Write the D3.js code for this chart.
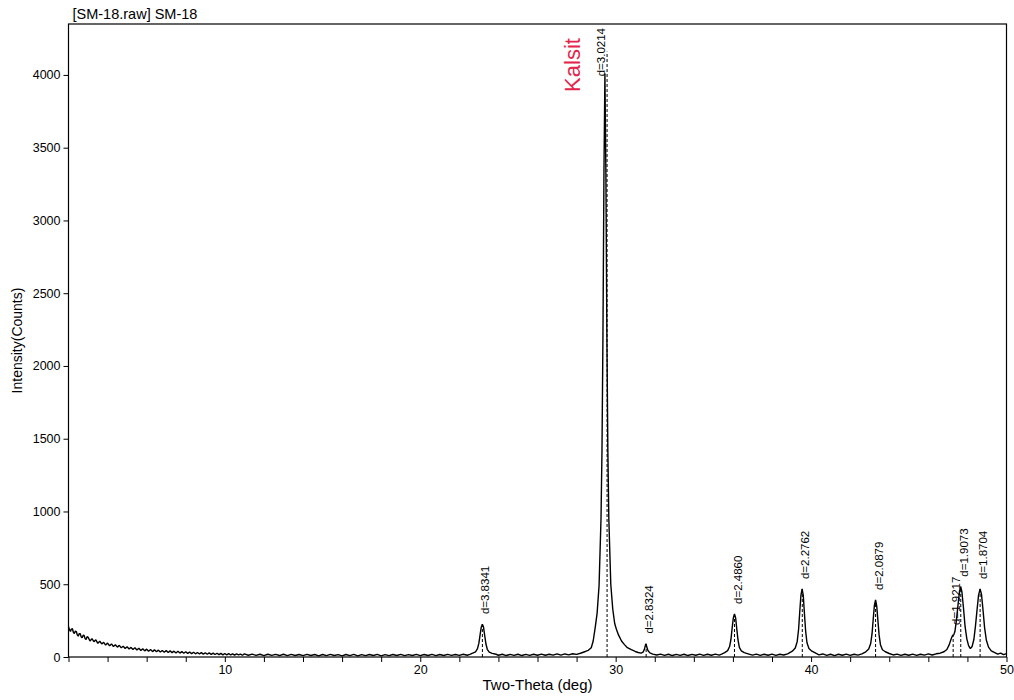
<!DOCTYPE html>
<html>
<head>
<meta charset="utf-8">
<script src="https://cdn.jsdelivr.net/npm/d3@7"></script>
<style>
  body { margin: 0; background: #fff; }
  text { font-family: "Liberation Sans", Arial, sans-serif; }
</style>
</head>
<body>
<script>
// raw scan, [2theta, counts]
const scanLow = [[2.0,208],[2.05,188],[2.1,176],[2.15,192],[2.2,194],[2.25,170],[2.3,161],[2.35,178],[2.4,175],[2.45,152],[2.5,143],[2.55,161],[2.6,160],[2.65,138],[2.7,132],[2.75,150],[2.8,148],[2.85,126],[2.9,121],[2.95,139],[3.0,137],[3.1,110],[3.2,126],[3.3,105],[3.4,118],[3.5,94],[3.6,108],[3.7,90],[3.8,101],[3.9,82],[4.0,96],[4.1,77],[4.2,90],[4.3,72],[4.4,84],[4.5,68],[4.6,80],[4.7,63],[4.8,74],[4.9,59],[5.0,70],[5.1,55],[5.2,66],[5.3,52],[5.4,63],[5.5,48],[5.6,60],[5.7,45],[5.8,56],[5.9,42],[6.0,54],[6.1,40],[6.2,51],[6.3,37],[6.4,49],[6.5,36],[6.6,47],[6.7,34],[6.8,45],[6.9,33],[7.0,44],[7.1,31],[7.2,42],[7.3,30],[7.4,40],[7.5,28],[7.6,39],[7.7,27],[7.8,37],[7.9,26],[8.0,36],[8.1,25],[8.2,34],[8.3,23],[8.4,33],[8.5,22],[8.6,31],[8.7,21],[8.8,30],[8.9,20],[9.0,29],[9.1,19],[9.2,28],[9.3,18],[9.4,27],[9.5,17],[9.6,26],[9.7,16],[9.8,25],[9.9,15],[10.0,24]];
const scanMid = [[10.1,15],[10.2,23],[10.3,14],[10.4,22],[10.5,13],[10.6,21],[10.7,14],[10.8,20],[10.9,12],[11.0,21],[11.2,12],[11.4,20],[11.6,11],[11.8,19],[12.0,10],[12.2,19],[12.4,11],[12.6,18],[12.8,10],[13.0,19],[13.2,9],[13.4,18],[13.6,10],[13.8,17],[14.0,9],[14.2,18],[14.4,10],[14.6,17],[14.8,8],[15.0,17],[15.2,9],[15.4,18],[15.6,10],[15.8,16],[16.0,8],[16.2,17],[16.4,9],[16.6,18],[16.8,8],[17.0,16],[17.2,9],[17.4,17],[17.6,10],[17.8,18],[18.0,8],[18.2,16],[18.4,9],[18.6,17],[18.8,10],[19.0,18],[19.2,9],[19.4,16],[19.6,10],[19.8,18],[20.0,9],[20.2,17],[20.4,10],[20.6,18],[20.8,9],[21.0,17],[21.2,10],[21.4,18],[21.6,11],[21.8,17],[22.0,11],[22.2,19],[22.4,12],[22.54,18],[22.68,26],[22.83,36],[22.93,57],[23.0,95],[23.06,151],[23.12,204],[23.18,225],[23.24,204],[23.30,145],[23.36,91],[23.43,53],[23.53,34],[23.68,25],[23.88,19],[24.0,12],[24.2,19],[24.4,10],[24.6,18],[24.8,11],[25.0,19],[25.2,10],[25.4,18],[25.6,11],[25.8,19],[26.0,12],[26.2,20],[26.4,12],[26.6,19],[26.8,13],[27.0,21],[27.2,13],[27.4,21],[27.6,15],[27.8,22],[28.0,18],[28.2,26],[28.45,38]];
const scanMain = [[28.6,46],[28.75,64],[28.85,110],[28.95,200],[29.05,300],[29.15,490],[29.25,950],[29.30,1420],[29.35,2220],[29.40,3320],[29.45,4010],[29.50,3320],[29.55,2220],[29.60,1420],[29.65,950],[29.75,500],[29.85,330],[29.95,230],[30.05,185],[30.15,150],[30.3,110],[30.45,85],[30.6,64],[30.8,50],[31.0,38],[31.15,31],[31.3,27],[31.4,33],[31.47,52],[31.52,80],[31.55,92],[31.59,70],[31.65,45],[31.75,28],[31.9,20],[32.1,14]];
const scanHigh = [[32.3,20],[32.5,11],[32.7,19],[32.9,10],[33.1,18],[33.3,11],[33.5,19],[33.7,10],[33.9,18],[34.1,12],[34.3,20],[34.5,11],[34.7,19],[34.9,12],[35.1,20],[35.3,13],[35.45,22],[35.58,30],[35.73,44],[35.83,72],[35.9,122],[35.96,198],[36.02,268],[36.08,296],[36.14,268],[36.2,190],[36.26,117],[36.33,66],[36.43,42],[36.58,30],[36.78,22],[37.0,13],[37.2,20],[37.4,11],[37.6,19],[37.8,12],[38.0,20],[38.2,11],[38.4,19],[38.6,14],[38.8,22],[39.04,40],[39.19,62],[39.29,107],[39.36,189],[39.42,311],[39.48,424],[39.54,469],[39.60,424],[39.66,297],[39.72,180],[39.79,98],[39.89,58],[40.04,40],[40.24,26],[40.4,15],[40.6,21],[40.8,11],[41.0,19],[41.2,10],[41.4,19],[41.6,12],[41.8,20],[42.0,11],[42.2,19],[42.4,13],[42.6,22],[42.8,36],[42.95,55],[43.05,92],[43.12,160],[43.18,261],[43.24,355],[43.30,392],[43.36,350],[43.42,250],[43.48,152],[43.55,85],[43.65,50],[43.8,36],[44.0,24],[44.2,14],[44.4,20],[44.6,11],[44.8,19],[45.0,12],[45.2,20],[45.4,11],[45.6,19],[45.8,13],[46.0,21],[46.2,14],[46.4,22],[46.6,26],[46.8,36],[46.95,52],[47.07,85],[47.17,125],[47.24,148],[47.30,152],[47.36,175],[47.44,255],[47.52,360],[47.60,455],[47.66,483],[47.72,445],[47.80,335],[47.88,210],[47.97,125],[48.06,78],[48.15,58],[48.24,72],[48.33,120],[48.41,210],[48.49,320],[48.57,425],[48.65,467],[48.72,430],[48.80,320],[48.88,200],[48.97,115],[49.08,68],[49.22,42],[49.4,30],[49.55,20],[49.7,27],[49.85,16],[50.0,23]];

// peak markers
const peakPos = [23.18, 29.56, 31.56, 36.08, 39.55, 43.30, 47.27, 47.66, 48.65];
const peakTop = [226, 4160, 92, 296, 467, 392, 152, 483, 467];
const peakLabel = ["d=3.8341", "d=3.0214", "d=2.8324", "d=2.4860", "d=2.2762", "d=2.0879", "d=1.9217", "d=1.9073", "d=1.8704"];
const phaseName = "Kalsit";

const xTicks = d3.range(2, 51, 2);
const yTicks = d3.range(0, 4001, 500);

const width = 1014, height = 700;
const margin = { top: 24, right: 7.5, bottom: 43, left: 68.5 };

let x = d3.scaleLinear().domain([2, 50]).range([margin.left, width - margin.right]);
let y = d3.scaleLinear().domain([0, 4350]).range([height - margin.bottom, margin.top]);

let svg = d3.select("body").append("svg")
  .attr("width", width)
  .attr("height", height);

svg.append("defs").append("clipPath").attr("id", "plot-clip")
  .append("rect")
  .attr("x", margin.left)
  .attr("y", margin.top)
  .attr("width", width - margin.left - margin.right)
  .attr("height", height - margin.top - margin.bottom);

svg.append("text")
  .attr("x", margin.left + 4)
  .attr("y", 19)
  .style("font-size", "14.5px")
  .text("[SM-18.raw] SM-18");

let xAxis = svg.append("g")
  .attr("transform", `translate(0,${height - margin.bottom})`)
  .call(d3.axisBottom(x).tickValues(xTicks).tickSize(5).tickSizeOuter(0)
    .tickFormat(d => d % 10 === 0 ? d : ""));
xAxis.select(".domain").remove();
xAxis.selectAll("text").style("font-size", "12.5px").style("font-family", "Liberation Sans, Arial");

let yAxis = svg.append("g")
  .attr("transform", `translate(${margin.left},0)`)
  .call(d3.axisLeft(y).tickValues(yTicks).tickSize(5).tickSizeOuter(0).tickFormat(d3.format("d")));
yAxis.select(".domain").remove();
yAxis.selectAll("text").style("font-size", "12.5px").style("font-family", "Liberation Sans, Arial");

svg.append("rect")
  .attr("x", margin.left)
  .attr("y", margin.top)
  .attr("width", width - margin.left - margin.right)
  .attr("height", height - margin.top - margin.bottom)
  .attr("fill", "none")
  .attr("stroke", "#000")
  .attr("stroke-width", 1.2);

let plot = svg.append("g").attr("clip-path", "url(#plot-clip)");

let scan = [...scanLow, ...scanMid, ...scanMain, ...scanHigh];
plot.append("path")
  .datum(scan)
  .attr("fill", "none")
  .attr("stroke", "#000")
  .attr("stroke-width", 1.4)
  .attr("stroke-linejoin", "bevel")
  .attr("d", d3.line().x(d => x(d[0])).y(d => y(d[1])));

plot.selectAll(".marker")
  .data(peakPos)
  .join("line")
  .attr("class", "marker")
  .attr("x1", d => x(d))
  .attr("x2", d => x(d))
  .attr("y1", y(0))
  .attr("y2", (d, i) => y(peakTop[i]))
  .attr("stroke", "#000")
  .attr("stroke-width", 1)
  .attr("stroke-dasharray", "3,2");

let labels = svg.selectAll(".peak-label")
  .data(peakLabel)
  .join("text")
  .attr("class", "peak-label")
  .style("font-size", "11.5px")
  .attr("dy", "0.35em")
  .text(d => d);
labels.each(function (d, i) {
  let len = this.getComputedTextLength();
  let base = Math.max(y(peakTop[i]) - 10, margin.top + 4 + len);
  let shift = i === 1 ? -6 : 3;
  d3.select(this).attr("transform", `translate(${x(peakPos[i]) + shift},${base}) rotate(-90)`);
});

svg.append("text")
  .attr("transform", `translate(${x(peakPos[1]) - 35},65) rotate(-90)`)
  .attr("text-anchor", "middle")
  .attr("dy", "0.35em")
  .attr("fill", "#e3244b")
  .style("font-size", "22px")
  .text(phaseName);

svg.append("text")
  .attr("x", (margin.left + width - margin.right) / 2)
  .attr("y", 690)
  .attr("text-anchor", "middle")
  .style("font-size", "15px")
  .text("Two-Theta (deg)");

svg.append("text")
  .attr("transform", `translate(17,${(margin.top + height - margin.bottom) / 2}) rotate(-90)`)
  .attr("text-anchor", "middle")
  .attr("dy", "0.35em")
  .style("font-size", "14px")
  .text("Intensity(Counts)");
</script>
</body>
</html>
